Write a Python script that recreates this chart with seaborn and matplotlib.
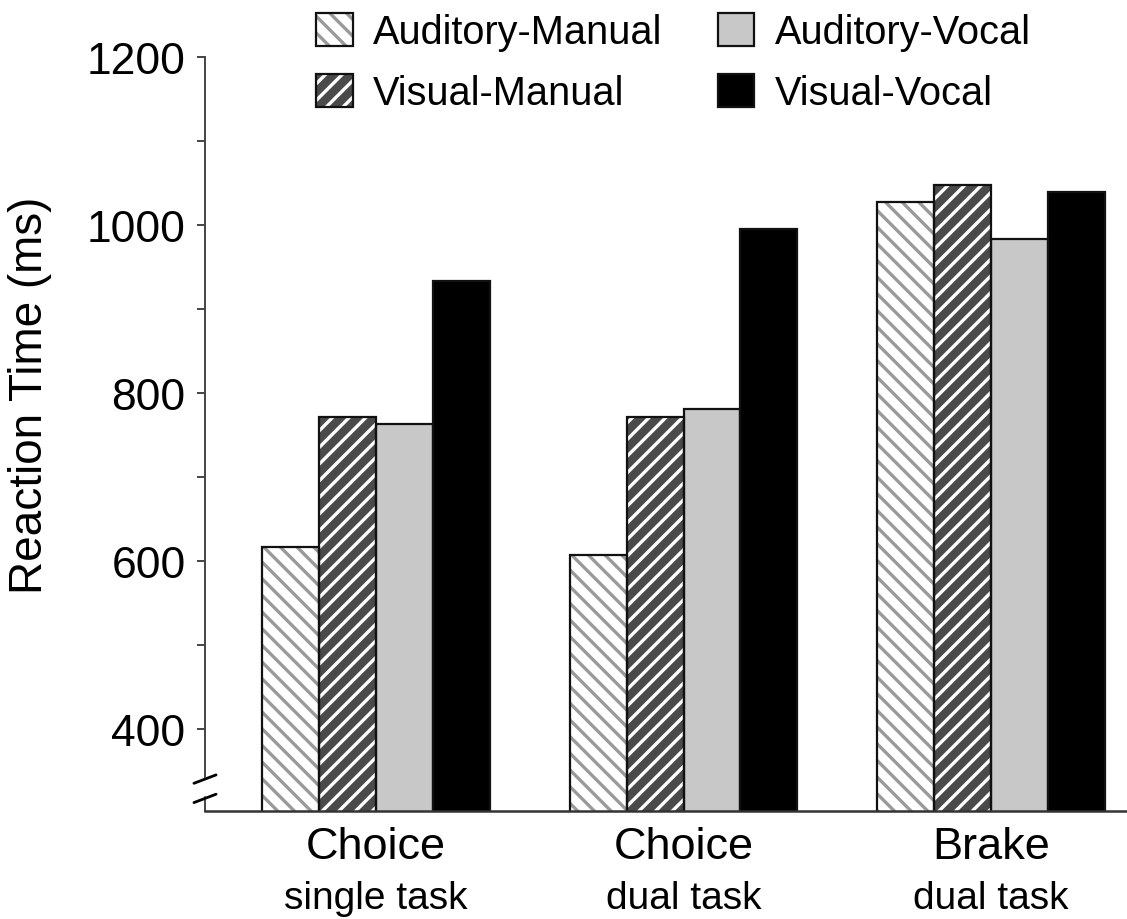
import matplotlib
matplotlib.use("Agg")
import matplotlib.pyplot as plt
import numpy as np
import pandas as pd
import seaborn as sns
from matplotlib.legend_handler import HandlerTuple
import matplotlib.transforms as mtransforms

# ---- data ----
categories = ["Choice single task", "Choice dual task", "Brake dual task"]
main_labels = ["Choice", "Choice", "Brake"]
sub_labels = ["single task", "dual task", "dual task"]
conditions = ["Auditory-Manual", "Visual-Manual", "Auditory-Vocal", "Visual-Vocal"]
auditory_manual = [616, 607, 1027]
visual_manual = [771, 771, 1048]
auditory_vocal = [763, 781, 983]
visual_vocal = [933, 995, 1039]
yticks = [400, 600, 800, 1000, 1200]
minor_yticks = [500, 700, 900, 1100]

# ---- style ----
face_colors = ["#ffffff", "#4a4a4a", "#c8c8c8", "#000000"]
hatch_colors = ["#9a9a9a", "#ffffff", "#c8c8c8", "#000000"]
hatches = ["\\\\", "//", "", ""]

sns.set_theme(style="white")
plt.rcParams["font.family"] = ["Liberation Sans", "DejaVu Sans"]
plt.rcParams["hatch.linewidth"] = 2.4

series = [auditory_manual, visual_manual, auditory_vocal, visual_vocal]
df = pd.DataFrame({
    "task": np.repeat([categories], len(conditions), axis=0).ravel(),
    "cond": np.repeat(conditions, len(categories)),
    "rt": np.concatenate(series),
})

fig = plt.figure(figsize=(11.27, 9.2), dpi=100)
ax = fig.add_axes([205 / 1127, 1 - 812 / 920, 1 - 205 / 1127, (812 - 58) / 920])

# layer 1: fills + hatches
sns.barplot(data=df, x="task", y="rt", hue="cond", order=categories,
            hue_order=conditions, palette=face_colors, width=0.74,
            linewidth=0, saturation=1, errorbar=None, legend=False, ax=ax)
for i, cont in enumerate(ax.containers[:4]):
    for p in cont:
        p.set_hatch(hatches[i])
        p.set_edgecolor(hatch_colors[i])
        p.set_linewidth(0)
# layer 2: outlines
sns.barplot(data=df, x="task", y="rt", hue="cond", order=categories,
            hue_order=conditions, fill=False, color="black", width=0.74,
            linewidth=1.6, errorbar=None, legend=False, ax=ax)
for cont in ax.containers[4:]:
    for p in cont:
        p.set_edgecolor("#111111")
        p.set_facecolor("none")

ax.set_ylim(302, 1200)
ax.set_xlim(-0.556, 2.442)

# axes styling
for s in ["top", "right"]:
    ax.spines[s].set_visible(False)
ax.spines["left"].set_color("#444444")
ax.spines["left"].set_linewidth(1.4)
ax.spines["left"].set_bounds(342, 1200)
ax.spines["bottom"].set_color("#333333")
ax.spines["bottom"].set_linewidth(1.8)

ax.set_yticks(yticks)
ax.set_yticks(minor_yticks, minor=True)
ax.set_yticklabels([str(v) for v in yticks], fontsize=32, color="black")
ax.tick_params(axis="y", which="both", direction="out", length=6, width=1.4,
               color="#444444", left=True, pad=8)
ax.tick_params(axis="x", length=0, pad=11)
ax.set_xticks(range(len(categories)))
ax.set_xticklabels(main_labels, fontsize=32.5, color="black")
trans = mtransforms.blended_transform_factory(ax.transData, ax.transAxes)
for i, s in enumerate(sub_labels):
    ax.text(i, -0.092, s, transform=trans, ha="center", va="top",
            fontsize=28, color="black")

ax.set_xlabel("")
ax.set_ylabel("Reaction Time (ms)", fontsize=33, color="black")
ax.yaxis.set_label_coords(-0.166, 0.553)

# axis break
bt = mtransforms.blended_transform_factory(ax.transAxes, ax.transData)
ax.plot([0, 0], [302, 319], color="#444444", lw=1.4, clip_on=False, transform=bt)
for yb in [340, 317]:
    ax.plot([-0.012, 0.012], [yb - 5, yb + 5], color="black", lw=2.0,
            clip_on=False, transform=bt)

# legend
h = [(ax.containers[i][0], ax.containers[i + 4][0]) for i in range(4)]
leg = fig.legend(h, conditions, ncol=2,
                 handler_map={tuple: HandlerTuple(ndivide=1)},
                 loc="upper left", bbox_to_anchor=(316 / 1127, 1 - 14 / 920),
                 frameon=False, fontsize=28.6, handlelength=0.92, handleheight=0.9,
                 handletextpad=0.52, columnspacing=1.39, labelspacing=0.58,
                 borderpad=0, borderaxespad=0)
for t in leg.get_texts():
    t.set_color("black")

fig.savefig("out.png", dpi=100)
